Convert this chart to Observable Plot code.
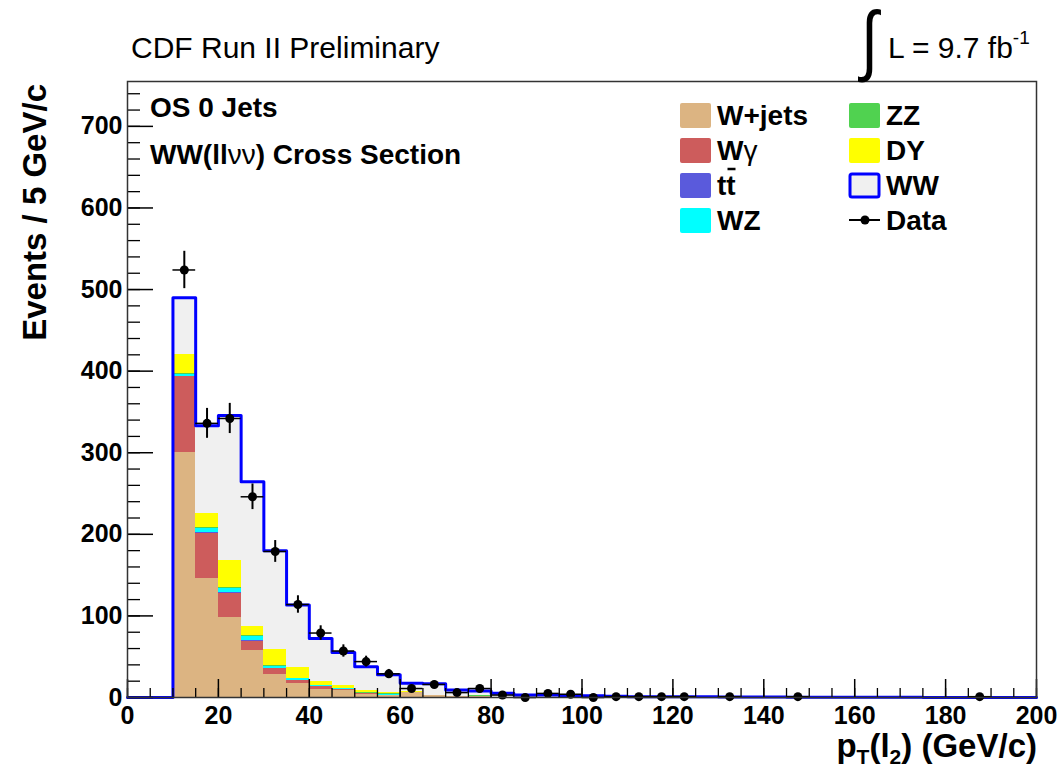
<!DOCTYPE html>
<html><head><meta charset="utf-8">
<script src="https://cdn.jsdelivr.net/npm/d3@7"></script>
<script src="https://cdn.jsdelivr.net/npm/@observablehq/plot@0.6"></script>
<style>
body{margin:0;background:#fff;}
#wrap{width:1063px;height:772px;}
</style></head><body><div id="wrap"></div>
<script>
// ---------- data ----------
const binWidth = 5;
const binLow = [10,15,20,25,30,35,40,45,50,55,60,65,70,75,80,85,90,95,100,105,110,115,120,125,130,135,140,145,150,155,160,165,170,175,180,185,190,195];
const wjets  = [300,146,98,57,28,17,10,8,4,2,6,2,1,1,0,0,0,0,0,0,0,0,0,0,0,0,0,0,0,0,0,0,0,0,0,0,0,0];
const wgamma = [93,55,30,12,7,4,3,2,1,1,0,0,0,0,0,0,0,0,0,0,0,0,0,0,0,0,0,0,0,0,0,0,0,0,0,0,0,0];
const ttbar  = [1,1,0.5,0.5,0.3,0.2,0.1,0,0,0,0,0,0,0,0,0,0,0,0,0,0,0,0,0,0,0,0,0,0,0,0,0,0,0,0,0,0,0];
const wz     = [2,5,5,5,3,2,1,1,0.5,0.3,0.2,0.1,0,0,0,0,0,0,0,0,0,0,0,0,0,0,0,0,0,0,0,0,0,0,0,0,0,0];
const zz     = [1,1,1,1,0.5,0.3,0.3,0.3,0.3,2,0.3,0.3,0.2,1,0.2,0,0,0,0,0,0,0,0,0,0,0,0,0,0,0,0,0,0,0,0,0,0,0];
const dy     = [24,18,33,11,20,13,5,4,3,0.5,1,0.5,0,0,0,0,0,0,0,0,0,0,0,0,0,0,0,0,0,0,0,0,0,0,0,0,0,0];
const ww     = [69,107,178,178,121,77,53,40,29,22,10,14,8,6,5,3,3,2,2,1.5,1,1,1,0.8,0.7,0.5,0.5,0.4,0.3,0.3,0.2,0.2,0.2,0.1,0.1,0.1,0.1,0.1];

const dataX = [12.5,17.5,22.5,27.5,32.5,37.5,42.5,47.5,52.5,57.5,62.5,67.5,72.5,77.5,82.5,87.5,92.5,97.5,102.5,107.5,112.5,117.5,122.5,132.5,147.5,187.5];
const dataN = [524,336,342,246,179,114,79,57,44,29,11,16,6,11,3,0,5,4,0,1,1,1,1,1,1,1];

const series = ["W+jets","Wγ","tt̄","WZ","ZZ","DY","WW"];
const colors = ["#dcb482","#cd5c5c","#5a5adc","#00ffff","#50d250","#ffff00","#f0f0f0"];
const legendCol1 = ["W+jets","Wγ","tt̄","WZ"];
const legendCol2 = ["ZZ","DY","WW","Data"];

const yMajor = [0,100,200,300,400,500,600,700];
const xMajor = [0,20,40,60,80,100,120,140,160,180,200];

// ---------- derived tables ----------
const comps = [wjets,wgamma,ttbar,wz,zz,dy,ww];
const rows = [];
series.forEach((s,k)=> binLow.forEach((b,i)=> rows.push({series:s, x1:b, x2:b+binWidth, v:comps[k][i]})));
const totals = binLow.map((b,i)=> d3.sum(comps, c=>c[i]));
const lineRows = [{x:0,y:0}].concat(binLow.map((b,i)=>({x:b,y:totals[i]})), [{x:200,y:totals[totals.length-1]}]);
const dataRows = dataX.map((x,i)=>({x, n:dataN[i]}));
const yMinor = d3.range(0, 756, 20);
const xMinor = d3.range(0, 201, 5);

// ---------- layout ----------
const W = 1063, H = 772;
const mL = 127, mR = 27, mT = 81, mB = 75;
const plotW = W - mL - mR, plotH = H - mT - mB;
const FONT = '"Liberation Sans", Arial, Helvetica, sans-serif';

const chart = Plot.plot({
  width: W, height: H,
  marginLeft: mL, marginRight: mR, marginTop: mT, marginBottom: mB,
  style: {fontFamily: FONT, background: "white", overflow: "visible", color: "black"},
  x: {domain: [0, 200]},
  y: {domain: [0, 755]},
  color: {domain: series, range: colors},
  marks: [
    Plot.rectY(rows, {x1: "x1", x2: "x2", y: "v", fill: "series", shapeRendering: "crispEdges"}),
    Plot.line(lineRows, {x: "x", y: "y", curve: "step-after", stroke: "#0000ff", strokeWidth: 3}),
    Plot.tickY(yMajor, {y: d => d, insetRight: plotW - 26, stroke: "black", strokeWidth: 1.5}),
    Plot.tickY(yMinor, {y: d => d, insetRight: plotW - 13, stroke: "black", strokeWidth: 1.3}),
    Plot.tickX(xMajor, {x: d => d, insetTop: plotH - 18, stroke: "black", strokeWidth: 1.5}),
    Plot.tickX(xMinor, {x: d => d, insetTop: plotH - 9, stroke: "black", strokeWidth: 1.3}),
    Plot.ruleX(dataRows, {x: "x", y1: d => d.n - Math.sqrt(d.n), y2: d => d.n + Math.sqrt(d.n), stroke: "black", strokeWidth: 2}),
    Plot.ruleY(dataRows, {y: "n", x1: d => d.x - binWidth/2, x2: d => d.x + binWidth/2, stroke: "black", strokeWidth: 1.5}),
    Plot.dot(dataRows, {x: "x", y: "n", r: 4.5, fill: "black"}),
    Plot.axisY({ticks: yMajor, tickSize: 0, tickPadding: 5, fontSize: 25, fontWeight: "bold", label: null, tickFormat: d => String(d)}),
    Plot.axisX({ticks: xMajor, tickSize: 0, tickPadding: 9, fontSize: 25, fontWeight: "bold", label: null, tickFormat: d => String(d)}),
    Plot.frame({stroke: "#333", strokeWidth: 1.5})
  ]
});
document.getElementById("wrap").appendChild(chart);

// ---------- annotations ----------
const svg = d3.select(chart);
const g = svg.append("g").attr("font-family", FONT).attr("fill", "black").attr("text-anchor", "start");

// title
g.append("text").attr("x", 131).attr("y", 58).attr("font-size", 30).text("CDF Run II Preliminary");
// luminosity: thin, tall integral sign
g.append("text").attr("transform", "translate(861,66) scale(1,1.25)").attr("font-size", 62)
  .attr("font-family", '"Liberation Sans", Arial, sans-serif').text("∫");
const lum = g.append("text").attr("x", 888).attr("y", 58).attr("font-size", 30);
lum.append("tspan").text("L = 9.7 fb");
lum.append("tspan").attr("font-size", 19).attr("dy", -14).text("-1");

// in-frame labels
g.append("text").attr("x", 150).attr("y", 117).attr("font-size", 28).attr("font-weight", "bold").text("OS 0 Jets");
const ws = g.append("text").attr("x", 150).attr("y", 164).attr("font-size", 28).attr("font-weight", "bold");
ws.append("tspan").text("WW(ll");
ws.append("tspan").attr("font-weight", "normal").text("νν");
ws.append("tspan").text(") Cross Section");

// axis titles
const xt = g.append("text").attr("x", 1037).attr("y", 757).attr("text-anchor", "end").attr("font-size", 33).attr("font-weight", "bold");
xt.append("tspan").text("p");
xt.append("tspan").attr("font-size", 21).attr("dy", 7).text("T");
xt.append("tspan").attr("dy", -7).text("(l");
xt.append("tspan").attr("font-size", 21).attr("dy", 7).text("2");
xt.append("tspan").attr("dy", -7).text(") (GeV/c)");
g.append("text").attr("transform", "translate(46,84) rotate(-90)").attr("text-anchor", "end")
  .attr("font-size", 33).attr("font-weight", "bold").text("Events / 5 GeV/c");

// legend
const colorOf = s => colors[series.indexOf(s)];
const rowY = [115, 150, 185, 220];
const colX = [680, 849];
[legendCol1, legendCol2].forEach((col, ci) => {
  col.forEach((lab, ri) => {
    const x0 = colX[ci], yc = rowY[ri];
    if (lab === "Data") {
      g.append("line").attr("x1", x0).attr("x2", x0 + 31).attr("y1", yc).attr("y2", yc).attr("stroke", "black").attr("stroke-width", 2);
      g.append("circle").attr("cx", x0 + 16).attr("cy", yc).attr("r", 4.5).attr("fill", "black");
    } else if (lab === "WW") {
      g.append("rect").attr("x", x0 + 1).attr("y", yc - 11).attr("width", 29).attr("height", 23).attr("rx", 2)
        .attr("fill", colorOf(lab)).attr("stroke", "#0000ff").attr("stroke-width", 3);
    } else {
      g.append("rect").attr("x", x0).attr("y", yc - 12).attr("width", 31).attr("height", 25).attr("rx", 2).attr("fill", colorOf(lab));
    }
    const t = g.append("text").attr("x", x0 + 37).attr("y", yc + 10).attr("font-size", 28).attr("font-weight", "bold");
    if (lab === "Wγ") {
      t.append("tspan").text("W");
      t.append("tspan").attr("font-weight", "normal").text("γ");
    } else if (lab === "tt̄") {
      t.text("tt");
      g.append("line").attr("x1", x0 + 47.5).attr("x2", x0 + 55.5).attr("y1", yc - 16).attr("y2", yc - 16).attr("stroke", "black").attr("stroke-width", 2.5);
    } else {
      t.text(lab);
    }
  });
});
</script></body></html>
